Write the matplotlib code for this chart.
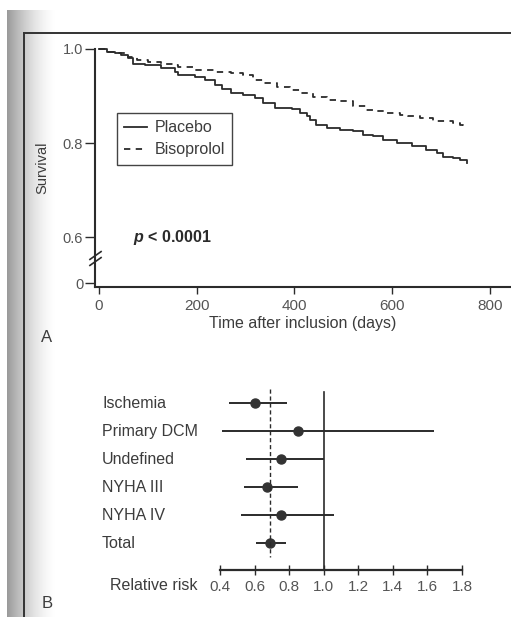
import numpy as np
import matplotlib
matplotlib.use("Agg")
import matplotlib.pyplot as plt
from matplotlib.lines import Line2D
from matplotlib.transforms import blended_transform_factory

plt.rcParams['font.family'] = ['Liberation Sans', 'DejaVu Sans']
plt.rcParams['mathtext.fontset'] = 'custom'
plt.rcParams['mathtext.it'] = 'Liberation Sans:italic:bold'

# --- panel A: survival curves ---
placebo_days = [0, 16, 33, 46, 60, 70, 94, 128, 155, 162, 196, 217, 237, 251, 271,
                295, 319, 336, 360, 394, 411, 425, 432, 445, 466, 493, 520, 541,
                561, 582, 609, 640, 670, 691, 704, 725, 739, 752]
placebo_surv = [1.0, 0.994, 0.991, 0.987, 0.980, 0.969, 0.966, 0.959, 0.952, 0.945,
                0.941, 0.934, 0.923, 0.916, 0.906, 0.903, 0.896, 0.885, 0.874, 0.872,
                0.864, 0.857, 0.850, 0.839, 0.832, 0.828, 0.825, 0.818, 0.814, 0.807,
                0.800, 0.793, 0.786, 0.779, 0.771, 0.768, 0.763, 0.757]
biso_days = [0, 16, 40, 60, 77, 101, 128, 155, 162, 196, 237, 270, 295, 316, 336,
             364, 391, 411, 438, 466, 493, 520, 547, 561, 589, 616, 633, 656, 684,
             725, 739, 745]
biso_surv = [1.0, 0.994, 0.991, 0.984, 0.977, 0.973, 0.969, 0.966, 0.962, 0.955,
             0.952, 0.948, 0.945, 0.935, 0.928, 0.920, 0.913, 0.906, 0.899, 0.892,
             0.889, 0.878, 0.871, 0.869, 0.864, 0.860, 0.857, 0.853, 0.846, 0.843,
             0.839, 0.837]
x_ticks = [0, 200, 400, 600, 800]
y_ticks = [0.6, 0.8, 1.0]
y_ticklabels = ['0.6', '0.8', '1.0']

# --- panel B: relative risk per subgroup ---
groups = ['Ischemia', 'Primary DCM', 'Undefined', 'NYHA III', 'NYHA IV', 'Total']
rr = [0.60, 0.85, 0.75, 0.67, 0.75, 0.69]
rr_lo = [0.45, 0.41, 0.55, 0.54, 0.52, 0.61]
rr_hi = [0.79, 1.64, 1.00, 0.85, 1.06, 0.78]
rr_ticks = [0.4, 0.6, 0.8, 1.0, 1.2, 1.4, 1.6, 1.8]

INK = '#2b2b2b'
TXT = '#3c3c3c'
W, H = 511, 617
ZERO_POS = 0.502  # where the "0" sits below the axis break

fig = plt.figure(figsize=(W / 100, H / 100), dpi=100)
fig.patch.set_facecolor('white')

# scanned page: binding shadow + frame lines
gax = fig.add_axes([7 / W, 0, 50 / W, (H - 10) / H])
g = np.linspace(0, 1, 200)
shade = 0.6 + 0.4 * (1 - (1 - g) ** 1.6)
gax.imshow(shade[None, :], cmap='gray', vmin=0, vmax=1, aspect='auto')
gax.axis('off')
fig.add_artist(Line2D([24 / W, 24 / W], [0, 1 - 33 / H], transform=fig.transFigure,
                      color='#333333', lw=1.4))
fig.add_artist(Line2D([24 / W, 1], [1 - 33 / H, 1 - 33 / H], transform=fig.transFigure,
                      color='#333333', lw=1.4))

# ---------------- panel A ----------------
ax1 = fig.add_axes([95 / W, 1 - 287 / H, 416 / W, 238 / H])
ax1.plot(placebo_days, placebo_surv, drawstyle='steps-post', color=INK, lw=1.3,
         label='Placebo', clip_on=False)
ax1.plot(biso_days, biso_surv, drawstyle='steps-post', color=INK, lw=1.3,
         dashes=(3.5, 3), label='Bisoprolol', clip_on=False)
ax1.set_xlim(-8, 843)
ax1.set_ylim(0.494, 1.0)
ax1.spines[['top', 'right']].set_visible(False)
for s in ['left', 'bottom']:
    ax1.spines[s].set_linewidth(1.5)
    ax1.spines[s].set_color(INK)
ax1.set_xticks(x_ticks)
ax1.set_yticks([ZERO_POS] + y_ticks)
ax1.set_yticklabels(['0'] + y_ticklabels)
ax1.tick_params(axis='x', length=5, width=1, pad=4, labelsize=11, colors=INK, labelcolor='#555555')
ax1.tick_params(axis='y', length=7, width=1, pad=1.5, labelsize=10.5, colors=INK, labelcolor='#555555')
ax1.set_xlabel('Time after inclusion (days)', fontsize=11.5, color=TXT, labelpad=2)
ax1.set_ylabel('Survival', fontsize=10.5, color=TXT, labelpad=10)

# axis break marks
ax1.plot([-8, -8], [0.549, 0.561], ls='none', marker=[(-1, -0.7), (1, 0.7)],
         ms=9, mew=1.2, color=INK, clip_on=False)

leg = ax1.legend(loc='upper left', bbox_to_anchor=(117 / W, 1 - 113 / H),
                 bbox_transform=fig.transFigure, borderaxespad=0, fontsize=11.5,
                 fancybox=False, edgecolor='#444444', handlelength=1.4,
                 handletextpad=0.5, labelspacing=0.45, borderpad=0.45, framealpha=1)
leg.get_frame().set_linewidth(1.0)
for t in leg.get_texts():
    t.set_color(TXT)

ax1.text(70, 0.6, r'$\it{p}$ < 0.0001', fontsize=11.5, fontweight='bold', color=INK,
         va='center', ha='left')

fig.text(47 / W, 1 - 338 / H, 'A', fontsize=12, color=TXT, ha='center', va='center')

# ---------------- panel B ----------------
ax2 = fig.add_axes([220 / W, 47 / H, 242 / W, 181 / H])
rows = np.arange(len(groups))
ax2.hlines(rows, rr_lo, rr_hi, color=INK, lw=1.4, clip_on=False)
ax2.plot(rr, rows, 'o', ms=6.5, color='#333333', clip_on=False)
ax2.plot([rr[-1], rr[-1]], [-0.5, 5.5], color=INK, lw=1.0, dashes=(3, 2), clip_on=False)
ax2.plot([1.0, 1.0], [-0.4, 5.96], color=INK, lw=1.2, clip_on=False)
ax2.set_xlim(0.4, 1.8)
ax2.set_ylim(5.96, -0.5)
ax2.spines[['top', 'right', 'left']].set_visible(False)
ax2.spines['bottom'].set_linewidth(1.6)
ax2.spines['bottom'].set_color(INK)
ax2.set_yticks([])
ax2.set_xticks(rr_ticks)
ax2.set_xticklabels([f'{v:.1f}' for v in rr_ticks])
ax2.tick_params(axis='x', direction='inout', length=7, width=1, pad=4,
                labelsize=11, colors=INK, labelcolor='#555555')

trans = blended_transform_factory(fig.transFigure, ax2.transData)
for r, name in zip(rows, groups):
    ax2.text(102 / W, r, name, transform=trans, fontsize=11.5, color=TXT,
             ha='left', va='center')
fig.text(197 / W, 1 - 585 / H, 'Relative risk', fontsize=11.5, color=TXT,
         ha='right', va='center')

fig.text(47 / W, 1 - 603 / H, 'B', fontsize=12, color=TXT, ha='center', va='center')

fig.savefig('out.png', dpi=100)
